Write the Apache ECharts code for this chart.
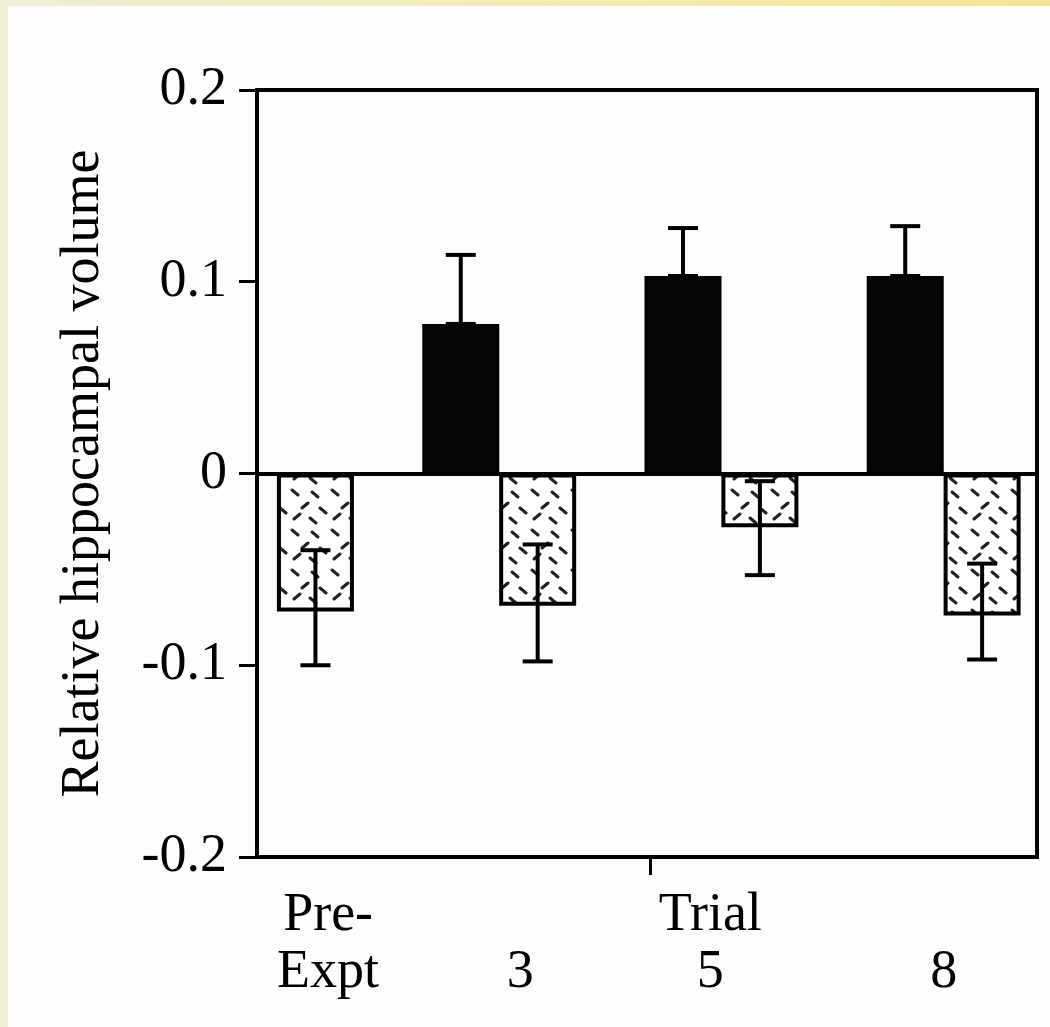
<!DOCTYPE html>
<html>
<head>
<meta charset="utf-8">
<script src="https://cdn.jsdelivr.net/npm/echarts@6/dist/echarts.min.js"></script>
<style>
	html, body { margin: 0; padding: 0; }
	body { width: 1050px; height: 1027px; background: linear-gradient(90deg, #efeed6 0%, #f4ecb4 50%, #f6e494 100%); position: relative; overflow: hidden; }
	#chart { position: absolute; left: 8px; top: 6px; width: 1042px; height: 1021px; background: #fdfdfd; }
</style>
</head>
<body>
<div id="chart"></div>
<script>
// groups along the x axis, index i = boundary between solid and hatched bar
let groups = ['Pre-Expt', '3', '5', '8'];
let groupLabels = ['Pre-\nExpt', '\n3', 'Trial\n5', '\n8'];
let labelAt = [0.23, 1.095, 1.95, 3.0];
let trialTick = [1.68];

// solid (black) bars, upper error
let solidMean = [null, 0.078, 0.103, 0.103];
let solidHigh = [null, 0.114, 0.128, 0.129];

// hatched bars, error range
let hatchMean = [-0.072, -0.069, -0.028, -0.074];
let hatchHigh = [-0.040, -0.037, -0.004, -0.047];
let hatchLow = [-0.100, -0.098, -0.053, -0.097];

let yTicks = [-0.2, -0.1, 0, 0.1, 0.2];

let half = 0.173; // half bar width in axis units
let font = '"Liberation Serif", "DejaVu Serif", serif';

function makeHatch() {
	let c = document.createElement('canvas');
	c.width = 40; c.height = 40;
	let ctx = c.getContext('2d');
	ctx.fillStyle = '#ffffff';
	ctx.fillRect(0, 0, 40, 40);
	ctx.strokeStyle = '#222';
	ctx.lineWidth = 3;
	ctx.lineCap = 'round';
	// [x, y, dir] dir 1 = "\", -1 = "/"
	let dashes = [[4, 4, 1], [24, 6, 1], [14, 17, -1], [32, 22, 1], [6, 28, -1], [22, 32, 1]];
	dashes.forEach(function (d) {
		ctx.beginPath();
		if (d[2] > 0) { ctx.moveTo(d[0], d[1]); ctx.lineTo(d[0] + 6, d[1] + 5); }
		else { ctx.moveTo(d[0] + 6, d[1]); ctx.lineTo(d[0], d[1] + 5); }
		ctx.stroke();
	});
	return c;
}

let solidData = [];
let hatchData = [];
let errData = [];
for (let i = 0; i < groups.length; i++) {
	if (solidMean[i] !== null) {
		solidData.push([i - half, solidMean[i]]);
		errData.push([i - half, solidMean[i], solidHigh[i]]);
	}
	hatchData.push([i + half, hatchMean[i]]);
	errData.push([i + half, hatchLow[i], hatchHigh[i]]);
}

let mychart = echarts.init(document.getElementById('chart'));
let option = {
	animation: false,
	grid: {
		left: 249, right: 13, top: 84, bottom: 170,
		show: true, borderColor: '#000', borderWidth: 4
	},
	xAxis: {
		type: 'value',
		min: -0.09,
		max: 3.42,
		splitLine: { show: false },
		axisLine: { onZero: false, lineStyle: { color: '#000', width: 4 } },
		axisTick: {
			show: true, customValues: trialTick, inside: false, length: 18,
			lineStyle: { color: '#000', width: 3 }
		},
		axisLabel: {
			customValues: labelAt,
			margin: 30,
			color: '#000',
			fontFamily: font,
			fontSize: 54,
			lineHeight: 57,
			formatter: function (v) {
				for (let i = 0; i < labelAt.length; i++) {
					if (Math.abs(labelAt[i] - v) < 1e-6) return groupLabels[i];
				}
				return '';
			}
		}
	},
	yAxis: {
		type: 'value',
		min: yTicks[0],
		max: yTicks[yTicks.length - 1],
		interval: 0.1,
		name: 'Relative hippocampal volume',
		nameLocation: 'middle',
		nameGap: 146,
		nameTextStyle: { color: '#000', fontFamily: font, fontSize: 54 },
		splitLine: { show: false },
		axisLine: { onZero: false, lineStyle: { color: '#000', width: 4 } },
		axisTick: { show: true, length: 18, lineStyle: { color: '#000', width: 3 } },
		axisLabel: {
			margin: 30, color: '#000', fontFamily: font, fontSize: 54,
			formatter: function (v) { return String(Math.round(v * 10) / 10); }
		}
	},
	series: [{
		name: 'solid',
		type: 'bar',
		data: solidData,
		barWidth: 77,
		barGap: '-100%',
		itemStyle: { color: '#050505', borderColor: '#000', borderWidth: 2 },
		markLine: {
			silent: true,
			symbol: 'none',
			label: { show: false },
			lineStyle: { color: '#000', width: 4, type: 'solid' },
			data: [{ yAxis: 0 }]
		},
		z: 2
	}, {
		name: 'hatched',
		type: 'bar',
		data: hatchData,
		barWidth: 77,
		barGap: '-100%',
		itemStyle: {
			color: { image: makeHatch(), repeat: 'repeat' },
			borderColor: '#000',
			borderWidth: 4
		},
		z: 2
	}, {
		name: 'error',
		type: 'custom',
		data: errData,
		z: 5,
		renderItem: function (params, api) {
			let lo = api.coord([api.value(0), api.value(1)]);
			let hi = api.coord([api.value(0), api.value(2)]);
			let cap = 15;
			let st = { stroke: '#000', lineWidth: 4 };
			return {
				type: 'group',
				children: [
					{ type: 'line', shape: { x1: lo[0], y1: lo[1], x2: hi[0], y2: hi[1] }, style: st },
					{ type: 'line', shape: { x1: hi[0] - cap, y1: hi[1], x2: hi[0] + cap, y2: hi[1] }, style: st },
					{ type: 'line', shape: { x1: lo[0] - cap, y1: lo[1], x2: lo[0] + cap, y2: lo[1] }, style: st }
				]
			};
		}
	}]
};
mychart.setOption(option);
</script>
</body>
</html>
